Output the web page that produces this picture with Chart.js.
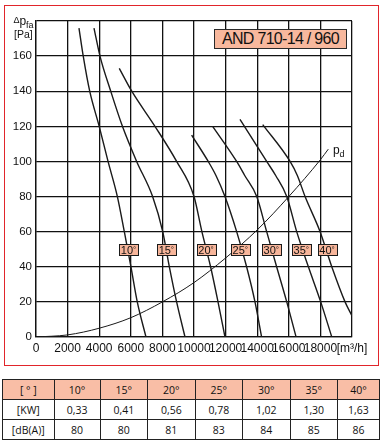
<!DOCTYPE html>
<html><head><meta charset="utf-8">
<script src="https://cdn.jsdelivr.net/npm/chart.js@4/dist/chart.umd.min.js"></script>
<style>
html,body{margin:0;padding:0;background:#fff;}
#frame{position:absolute;left:4px;top:5px;width:373px;height:359px;border:1.4px solid #e1252b;}
#wrap{position:absolute;left:0;top:0;width:380px;height:372px;}
#title{position:absolute;left:214px;top:29px;width:131px;height:18px;background:#f8b89d;border:1.2px solid #2a2a2a;
 font-family:"Liberation Sans",Arial,sans-serif;font-size:16px;letter-spacing:-0.7px;line-height:18px;text-align:center;color:#111;}
table{position:absolute;left:2px;top:379px;width:377px;border-collapse:collapse;font-family:"Open Sans",sans-serif;font-size:10.5px;color:#111;table-layout:fixed;}
td{border:1px solid #222;height:19px;padding:0;text-align:center;}
tr.h td{background:#f9bea6;}
</style></head>
<body>
<div id="frame"></div>
<div id="wrap"><canvas id="c"></canvas></div>
<div id="title">AND 710-14 / 960</div>
<table id="t"></table>
<script>
// ---- data (flow m³/h, pressure Pa) ----
const curve10 = [[2720,176],[2990,160],[3400,140],[4000,120],[4560,100],[5150,80],[5590,60],[6010,40],[6410,20],[6960,0]];
const curve15 = [[3670,176],[4050,160],[4730,140],[5470,120],[6370,100],[7380,80],[8020,60],[8440,40],[8900,20],[9430,0]];
const curve20 = [[5270,153],[6060,140],[7530,120],[8900,100],[10000,80],[10500,60],[11050,40],[11520,20],[11960,0]];
const curve25 = [[9850,115],[10900,100],[11390,92],[11960,80],[12700,60],[13330,40],[13860,20],[14280,0]];
const curve30 = [[11180,120],[12700,100],[13210,92],[13970,80],[14600,60],[15230,40],[15870,20],[16460,0]];
const curve35 = [[12910,124],[14600,100],[15170,92],[15870,80],[16500,60],[17240,40],[18020,20],[18720,0]];
const curve40 = [[14350,121],[16080,100],[16540,92],[17030,80],[17980,60],[18720,40],[19560,20],[20000,12]];
const curvePd = [[0,0],[2000,1.2],[4000,5],[6000,11],[8000,20],[10000,31],[12000,45],[14000,61],[16000,80],[18000,101],[18500,107]];
const curveLabels = ['10°','15°','20°','25°','30°','35°','40°'];
const labelFlow = [5860,8250,10760,12930,14890,16790,18420];
const labelPressure = 50;
const xTickLabels = ['0','2000','4000','6000','8000','10000','12000','14000','16000','18000','[m³/h]'];
const yTickLabels = ['0','20','40','60','80','100','120','140','160',''];
const tableAngles = ['[ ° ]','10°','15°','20°','25°','30°','35°','40°'];
const tableKW = ['[KW]','0,33','0,41','0,56','0,78','1,02','1,30','1,63'];
const tableDB = ['[dB(A)]','80','80','81','83','84','85','86'];

// table
const colW=[51.6,46,47.4,47.6,47.4,47.6,47.4,42];
const t=document.getElementById('t');
const cg=document.createElement('colgroup');
colW.forEach(w=>{const c=document.createElement('col');c.style.width=w+'px';cg.appendChild(c);});
t.appendChild(cg);
[[tableAngles,'h'],[tableKW,''],[tableDB,'']].forEach(([row,cls])=>{
  const tr=document.createElement('tr');if(cls)tr.className=cls;
  row.forEach(v=>{const td=document.createElement('td');td.textContent=v;tr.appendChild(td);});
  t.appendChild(tr);
});

const toPts = a => a.map(p=>({x:p[0],y:p[1]}));
const fanCurves=[curve10,curve15,curve20,curve25,curve30,curve35,curve40];
const datasets = fanCurves.map(c=>({data:toPts(c),borderColor:'#1a1a1a',borderWidth:1.4,pointRadius:0,showLine:true,fill:false,cubicInterpolationMode:'monotone'}));
datasets.push({data:toPts(curvePd),borderColor:'#1a1a1a',borderWidth:1,pointRadius:0,showLine:true,fill:false,cubicInterpolationMode:'monotone'});

const overlay={id:'overlay',afterDatasetsDraw(chart){
  const {ctx,scales:{x,y}}=chart;
  ctx.save();
  curveLabels.forEach((lab,i)=>{
    const cx=x.getPixelForValue(labelFlow[i]), cy=y.getPixelForValue(labelPressure);
    const w=19,h=11;
    const bx=Math.round(cx-w/2)+0.5, by=Math.round(cy-h/2)+0.5;
    ctx.fillStyle='#f7b59a';ctx.fillRect(bx,by,w,h);
    ctx.strokeStyle='#1a1a1a';ctx.lineWidth=1;ctx.strokeRect(bx,by,w,h);
    ctx.fillStyle='#111';ctx.textBaseline='alphabetic';ctx.textAlign='left';
    const num=lab.replace('°','');
    ctx.font='11px "Liberation Sans Narrow","Liberation Sans",sans-serif';
    const nw=ctx.measureText(num).width;
    ctx.font='8px "Liberation Sans",sans-serif';
    const dw=ctx.measureText('°').width;
    const sx=cx-(nw+dw)/2;
    ctx.font='11px "Liberation Sans Narrow","Liberation Sans",sans-serif';
    ctx.fillText(num,sx,by+h-1.5);
    ctx.font='8px "Liberation Sans",sans-serif';
    ctx.fillText('°',sx+nw,by+7);
  });
  // pd label
  ctx.font='12px "Liberation Sans",sans-serif';
  ctx.fillText('p',333,154);
  ctx.font='9px "Liberation Sans",sans-serif';
  ctx.fillText('d',339.5,157);
  // y axis title
  ctx.font='9px "Liberation Sans",sans-serif';
  ctx.fillText('Δ',13.5,23);
  ctx.font='12px "Liberation Sans",sans-serif';
  ctx.fillText('p',19.5,25);
  ctx.font='9px "Liberation Sans",sans-serif';
  ctx.fillText('fa',26,28);
  ctx.font='10.5px "Liberation Sans",sans-serif';
  ctx.fillText('[Pa]',14,38);
  ctx.restore();
}};

new Chart(document.getElementById('c'),{
  type:'scatter',
  data:{datasets},
  options:{
    responsive:true,maintainAspectRatio:false,animation:false,
    layout:{padding:{left:6,right:28,top:21,bottom:0}},
    plugins:{legend:{display:false},tooltip:{enabled:false}},
    scales:{
      x:{type:'linear',min:0,max:20000,
        afterBuildTicks(s){s.ticks=xTickLabels.map((_,i)=>({value:i*2000}));},
        afterFit(s){s.height=35;},
        grid:{color:'#111',lineWidth:1.3,drawTicks:false},
        border:{color:'#111',width:1.3},
        ticks:{padding:4,maxRotation:0,autoSkip:false,color:'#111',
          font:{family:'"Liberation Sans Narrow","Liberation Sans",Arial,sans-serif',size:12},
          callback:(v,i)=>xTickLabels[i]}},
      y:{type:'linear',min:0,max:180,
        afterBuildTicks(s){s.ticks=yTickLabels.map((_,i)=>({value:i*20}));},
        afterFit(s){s.width=30;},
        grid:{color:'#111',lineWidth:1.3,drawTicks:false},
        border:{color:'#111',width:1.3},
        ticks:{padding:4,autoSkip:false,color:'#111',
          font:{family:'"Liberation Sans",Arial,sans-serif',size:11.5},
          callback:(v,i)=>yTickLabels[i]}}
    }
  },
  plugins:[overlay]
});
</script>
</body></html>
